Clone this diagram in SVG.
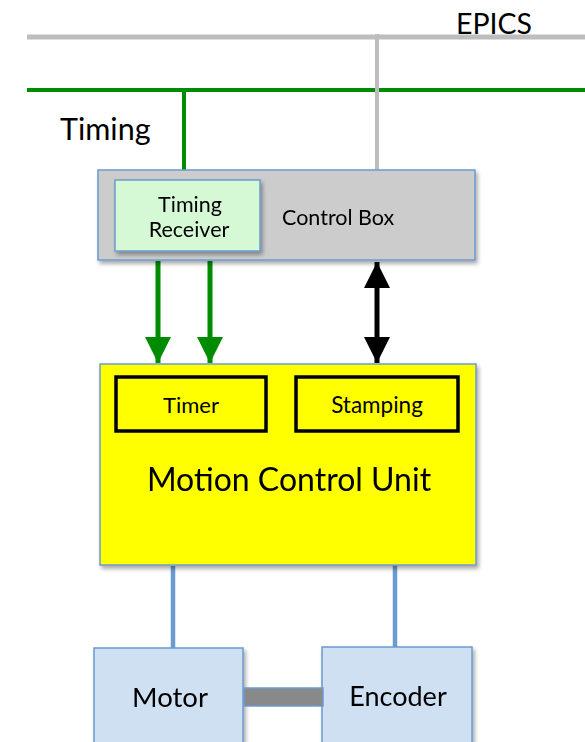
<svg xmlns="http://www.w3.org/2000/svg" width="585" height="742" viewBox="0 0 585 742">
  <defs>
    <filter id="shadow" x="-10%" y="-10%" width="125%" height="130%">
      <feGaussianBlur in="SourceAlpha" stdDeviation="2"/>
      <feOffset dx="2" dy="3" result="o"/>
      <feComponentTransfer><feFuncA type="linear" slope="0.35"/></feComponentTransfer>
      <feMerge><feMergeNode/><feMergeNode in="SourceGraphic"/></feMerge>
    </filter>
    <marker id="greenHead" viewBox="0 0 10 10" refX="10" refY="5" markerWidth="5.2" markerHeight="5.2" markerUnits="strokeWidth" orient="auto">
      <path d="M0,0 L10,5 L0,10 z" fill="#008c00"/>
    </marker>
    <marker id="blackHead" viewBox="0 0 10 10" refX="10" refY="5" markerWidth="5.2" markerHeight="5.2" markerUnits="strokeWidth" orient="auto-start-reverse">
      <path d="M0,0 L10,5 L0,10 z" fill="#000"/>
    </marker>
  </defs>
  <style>
    text { font-family: Lato, "Open Sans", "Liberation Sans", sans-serif; fill: #000; }
    .box { stroke: #6b9bd0; stroke-width: 1.5; }
    .green { stroke: #008c00; stroke-width: 5; fill: none; }
    .blue { stroke: #6b9bd0; stroke-width: 4.5; fill: none; }
    .inner { fill: #ffff00; stroke: #000; stroke-width: 3.5; }
  </style>
  <rect width="585" height="742" fill="#fff"/>

  <!-- buses and connectors -->
  <g id="connectors">
    <line x1="27" y1="37" x2="585" y2="37" stroke="#bdbdbd" stroke-width="5"/>
    <line x1="27" y1="90" x2="585" y2="90" stroke="#008c00" stroke-width="4"/>
    <line x1="184" y1="90" x2="184" y2="171" stroke="#008c00" stroke-width="4"/>
    <line x1="377" y1="34" x2="377" y2="171" stroke="#bdbdbd" stroke-width="4"/>
    <line class="green" x1="158" y1="261" x2="158" y2="363" marker-end="url(#greenHead)"/>
    <line class="green" x1="210" y1="261" x2="210" y2="363" marker-end="url(#greenHead)"/>
    <line x1="377" y1="262" x2="377" y2="363" stroke="#000" stroke-width="5" marker-start="url(#blackHead)" marker-end="url(#blackHead)"/>
    <line class="blue" x1="173" y1="566" x2="173" y2="649"/>
    <line class="blue" x1="395" y1="563" x2="395" y2="648"/>
  </g>

  <text x="456" y="34" font-size="28.5">EPICS</text>
  <text x="60" y="140" font-size="30.5">Timing</text>

  <g id="control-box" filter="url(#shadow)">
    <rect class="box" x="98" y="170" width="377" height="90" fill="#cccccc"/>
    <text x="282" y="225" font-size="21.5">Control Box</text>
  </g>

  <g id="timing-receiver" filter="url(#shadow)">
    <rect class="box" x="115" y="180" width="145" height="71" fill="#d5f8d5"/>
    <text x="190" y="212" font-size="21.5" text-anchor="middle">Timing</text>
    <text x="189" y="237" font-size="21.5" text-anchor="middle">Receiver</text>
  </g>

  <g id="motion-control-unit" filter="url(#shadow)">
    <rect class="box" x="100" y="364" width="376" height="201" fill="#ffff00"/>
    <text x="289" y="491" font-size="32" text-anchor="middle">Motion Control Unit</text>
  </g>

  <g id="timer">
    <rect class="inner" x="116" y="377" width="150" height="54"/>
    <text x="191" y="413" font-size="22" text-anchor="middle">Timer</text>
  </g>

  <g id="stamping">
    <rect class="inner" x="296" y="377" width="162" height="54"/>
    <text x="377" y="413" font-size="22.5" text-anchor="middle">Stamping</text>
  </g>

  <g id="motor" filter="url(#shadow)">
    <rect class="box" x="94" y="648" width="149" height="100" fill="#cfe0f3"/>
    <text x="170" y="707" font-size="27.5" text-anchor="middle">Motor</text>
  </g>

  <g id="encoder" filter="url(#shadow)">
    <rect class="box" x="322" y="647" width="150" height="100" fill="#cfe0f3"/>
    <text x="398" y="706" font-size="27" text-anchor="middle">Encoder</text>
  </g>

  <g id="shaft">
    <rect x="244" y="688" width="79" height="18" fill="#898989" stroke="#6b9bd0" stroke-width="1.5"/>
  </g>
</svg>
